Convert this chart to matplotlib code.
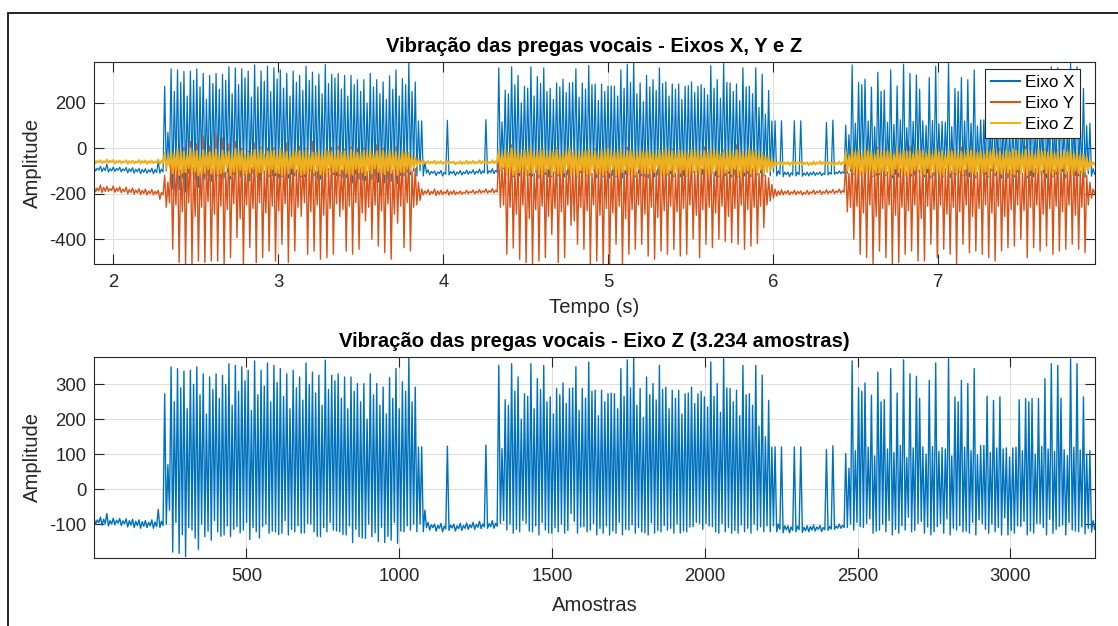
import numpy as np
import matplotlib
matplotlib.use("Agg")
import matplotlib.pyplot as plt
from matplotlib.patches import Rectangle

# sinal a ~540 Hz, guardado em blocos de 21 amostras:
# (maximo, minimo) de cada bloco e o segundo pico / segundo vale do mesmo bloco
fs = 540
t_inicio = 1.883
bloco = 21

eixo_x_max = [
    -82, -80, -70, -83, -84, -85, -86, -88, -90, -88, -58,
    273,
    350, 345, 338, 340, 350, 330, 321, 330, 326, 359, 354, 350, 340, 367, 340, 361, 354, 345, 330,
    340, 321, 361, 335, 326, 369, 326, 330, 321, 321, 302, 302, 330, 302, 292, 319, 345, 307, 378,
    292, 121,
    -95, -100, -98, 123, -100, -98, -97, -95, -92, 126, -90,
    354,
    256, 359, 321, 273, 359, 316, 354, 264, 288, 304, 288, 350, 288, 364, 283, 283, 273, 273, 345, 370,
    379, 288, 321, 302, 354, 292, 283, 283, 273, 292, 273, 264, 364, 302, 373, 288, 283, 354, 273, 354, 326,
    254, 121, 121,
    -105, 121, 121, -105, -103, -104, 113, 124, -100,
    102,
    367, 290, 304, 269, 335, 256, 345, 275, 370, 330, 323, 121, 311, 361, 119, 373, 264, 311, 302,
    345, 125, 266, 254, 264, 118, 118, 256, 259, 259, 259, 316, 359, 354, 113, 373, 359, 264,
    110,
]
eixo_x_min = [
    -100, -103, -105, -102, -104, -108, -110, -112, -110, -112, -110,
    -100,
    -180, -184, -193, -117, -172, -136, -146, -122, -131, -136, -107, -117, -144, -122, -107, -126, -122, -126, -131,
    -122, -126, -98, -122, -136, -122, -117, -122, -131, -153, -136, -141, -136, -150, -153, -146, -155, -122, -117,
    -122, -122,
    -117, -120, -122, -118, -120, -118, -115, -115, -113, -112, -112,
    -98,
    -117, -126, -122, -98, -122, -131, -117, -126, -122, -126, -70, -126, -107, -117, -131, -126, -131, -126, -131, -117,
    -126, -122, -131, -126, -122, -117, -126, -126, -122, -107, -98, -98, -107, -126, -122, -126, -126, -122, -126, -117, -122,
    -122, -122, -125,
    -125, -122, -124, -122, -120, -121, -118, -115, -112,
    -110,
    -117, -107, -98, -126, -117, -122, -131, -126, -117, -122, -98, -126, -131, -107, -126, -131, -117, -122, -126,
    -131, -98, -126, -122, -131, -131, -126, -107, -131, -126, -98, -131, -126, -107, -131, -117, -122, -128,
    -123,
]
eixo_x_max2 = [
    -88, -86, -90, -89, -91, -90, -92, -93, -95, -94, -92,
    70,
    250, 290, 230, 300, 270, 215, 285, 260, 300, 240, 280, 310, 225, 270, 295, 250, 305, 265, 230,
    290, 255, 300, 275, 240, 285, 310, 260, 230, 280, 250, 200, 270, 240, 215, 260, 230, 280, 250,
    120, -60,
    -102, -104, -106, -103, -105, -104, -102, -101, -100, -99, -98,
    116,
    240, 280, 200, 265, 230, 285, 250, 215, 270, 245, 290, 225, 260, 280, 210, 250, 275, 230, 265, 290,
    240, 205, 270, 255, 285, 230, 260, 215, 275, 245, 280, 235, 265, 220, 290, 250, 210, 270, 240, 180, 150,
    120, -100, -105,
    -108, -106, -109, -107, -108, -110, -107, -106, -104,
    60,
    110, 280, 120, 95, 250, 115, 105, 125, 90, 118, 260, 100, 122, 108, 115, 95, 250, 120, 110,
    98, 125, 105, 118, 115, 92, 120, 110, 250, 100, 122, 115, 108, 260, 96, 120, 112, 100,
    -90,
]
eixo_x_min2 = [
    -96, -98, -100, -97, -99, -103, -104, -106, -105, -107, -104,
    -60,
    -95, -130, -110, -140, -100, -120, -90, -135, -105, -115, -125, -95, -110, -140, -100, -120, -130, -90, -115,
    -105, -125, -100, -135, -110, -95, -120, -130, -105, -115, -140, -100, -125, -110, -135, -95, -120, -105, -100,
    -100, -110,
    -110, -112, -114, -111, -113, -112, -110, -109, -108, -107, -106,
    -90,
    -100, -115, -90, -120, -105, -95, -125, -110, -100, -118, -92, -108, -122, -98, -112, -105, -120, -95, -115, -102,
    -110, -125, -96, -118, -104, -112, -100, -120, -108, -95, -115, -105, -122, -98, -110, -118, -102, -112, -100, -108, -105,
    -105, -115, -116,
    -118, -116, -119, -117, -115, -116, -114, -112, -110,
    -100,
    -95, -110, -85, -120, -100, -90, -115, -105, -80, -118, -92, -108, -122, -98, -85, -112, -105, -120, -95,
    -88, -115, -100, -110, -82, -118, -105, -92, -120, -98, -110, -86, -115, -102, -95, -120, -108, -112,
    -115,
]

eixo_y_max = [
    -165, -162, -168, -166, -170, -172, -175, -178, -180, -182, -185,
    -120,
    -28, -20, 5, 30, 20, 53, 10, 60, 45, 20, 30, 0, -13, 23, 5, 0, 2, -28, 23,
    -10, 8, 0, 30, -13, -10, 5, 8, -5, 8, 0, 2, -13, 15, 0, -13, 8, -15, -20,
    -90, -180,
    -182, -180, -185, -183, -186, -188, -185, -184, -182, -180, -178,
    -20,
    -10, 15, -20, -25, 5, -30, -15, -20, 0, -25, -10, -20, -30, -15, -5, -20, 10, -25, -15, 5,
    -20, -30, -10, -20, -15, -25, -5, -20, -30, -10, -15, 5, -25, -20, -10, -30, 15, -15, -20, -25, -30,
    -130, -180, -183,
    -186, -185, -188, -186, -184, -185, -183, -182, -180,
    -60,
    -10, -25, 0, -20, 5, -15, -25, -5, -20, 8, -10, -25, -15, 0, -20, -28, -10, 5, -15,
    -20, -25, -5, -15, 0, -20, -10, -25, 8, -15, -20, -5, -25, -10, -15, -20, -28, -30,
    -150,
]
eixo_y_min = [
    -192, -195, -190, -194, -196, -200, -202, -204, -206, -205, -225,
    -260,
    -445, -504, -511, -511, -497, -504, -497, -497, -511, -482, -394, -511, -438, -504, -482, -453, -497, -423, -504,
    -453, -300, -467, -453, -489, -482, -467, -300, -453, -467, -445, -320, -401, -431, -460, -489, -330, -438, -453,
    -250, -205,
    -205, -208, -204, -206, -204, -202, -200, -200, -198, -198, -197,
    -260,
    -467, -440, -489, -504, -511, -497, -482, -380, -504, -482, -340, -423, -445, -511, -497, -511, -511, -423, -511, -467,
    -445, -423, -475, -489, -453, -467, -445, -475, -467, -400, -482, -423, -438, -401, -410, -416, -423, -445, -431, -420, -350,
    -233, -210, -205,
    -205, -204, -206, -203, -202, -203, -200, -200, -198,
    -280,
    -401, -467, -482, -511, -453, -482, -511, -504, -467, -453, -497, -497, -423, -482, -445, -467, -511, -423, -460,
    -453, -467, -482, -497, -453, -438, -431, -401, -482, -438, -453, -431, -467, -453, -445, -423, -445, -460,
    -220,
]
eixo_y_max2 = [
    -175, -172, -178, -176, -180, -182, -184, -186, -188, -190, -195,
    -150,
    -70, -95, -60, -85, -100, -75, -90, -65, -105, -80, -70, -95, -85, -60, -100, -75, -90, -80, -65,
    -95, -85, -70, -100, -60, -90, -75, -95, -80, -70, -85, -100, -65, -90, -75, -95, -85, -80, -100,
    -150, -188,
    -190, -188, -192, -190, -193, -194, -191, -190, -188, -187, -185,
    -80,
    -85, -100, -70, -95, -110, -80, -90, -105, -75, -100, -85, -95, -70, -110, -90, -80, -100, -75, -95, -85,
    -105, -70, -90, -100, -80, -95, -110, -75, -85, -100, -90, -70, -105, -80, -95, -85, -100, -75, -90, -110, -120,
    -160, -188, -190,
    -192, -190, -194, -192, -190, -191, -189, -188, -186,
    -110,
    -80, -100, -70, -95, -85, -105, -75, -90, -100, -80, -95, -70, -110, -85, -90, -100, -75, -95, -80,
    -105, -70, -90, -100, -85, -95, -75, -110, -80, -90, -100, -70, -95, -85, -105, -80, -100, -120,
    -180,
]
eixo_y_min2 = [
    -188, -190, -186, -189, -192, -195, -197, -199, -200, -201, -205,
    -240,
    -250, -280, -240, -300, -260, -235, -290, -255, -270, -245, -310, -250, -265, -240, -285, -255, -275, -245, -300,
    -260, -240, -280, -250, -295, -265, -245, -270, -255, -240, -285, -260, -250, -275, -245, -290, -255, -240, -260,
    -230, -200,
    -200, -203, -199, -201, -200, -198, -196, -196, -194, -194, -193,
    -250,
    -260, -290, -250, -310, -270, -255, -300, -265, -280, -250, -320, -260, -275, -250, -295, -265, -285, -255, -310, -270,
    -250, -290, -260, -305, -275, -255, -280, -265, -250, -295, -270, -260, -285, -255, -300, -265, -250, -270, -260, -255, -250,
    -220, -205, -200,
    -200, -199, -201, -198, -197, -198, -196, -195, -194,
    -260,
    -255, -285, -250, -300, -265, -250, -295, -260, -275, -250, -310, -255, -270, -250, -290, -260, -280, -250, -300,
    -265, -250, -285, -255, -300, -270, -250, -275, -260, -250, -290, -265, -255, -280, -250, -295, -260, -250,
    -200,
]

eixo_z_max = [
    -52, -53, -50, -52, -54, -53, -55, -52, -54, -53, -50,
    -20,
    -10, -5, -15, 0, -12, -8, -18, -5, -10, -15, -3, -12, -20, -8, -5, -14, -10, -2, -16,
    -8, -12, -6, -18, -10, -4, -15, -9, -12, -7, -20, -10, -5, -14, -11, -8, -16, -12, -20,
    -40, -55,
    -56, -55, -57, -56, -58, -57, -55, -56, -54, -55, -53,
    -10,
    -5, 0, -12, -8, 5, -15, -3, -10, -6, -18, 2, -9, -12, -4, -14, -7, 0, -16, -5, -10,
    -13, -2, -8, -15, -6, 3, -11, -9, -14, -4, -7, -12, 0, -10, -16, -5, -8, -13, -3, -11, -20,
    -35, -58, -60,
    -60, -58, -59, -61, -58, -57, -59, -60, -58,
    -15,
    -2, -10, 0, -14, -6, -8, -12, 3, -9, -15, -4, -11, -7, 0, -13, -5, -10, -16, -3,
    -8, -12, -6, 2, -14, -9, -5, -11, -7, -13, -2, -10, -6, -15, -8, -12, -20, -25,
    -55,
]
eixo_z_min = [
    -65, -66, -64, -67, -66, -68, -66, -67, -69, -66, -68,
    -90,
    -110, -118, -105, -115, -120, -108, -112, -116, -104, -119, -110, -113, -107, -121, -109, -114, -106, -117, -111,
    -103, -118, -112, -108, -115, -120, -105, -113, -110, -116, -107, -119, -111, -104, -114, -109, -117, -106, -100,
    -80, -68,
    -68, -69, -70, -68, -71, -70, -69, -68, -67, -68, -66,
    -95,
    -112, -118, -106, -121, -109, -115, -103, -119, -111, -108, -116, -122, -105, -113, -110, -118, -107, -120, -104, -114,
    -117, -109, -112, -106, -119, -111, -115, -108, -121, -103, -113, -116, -110, -118, -107, -114, -120, -105, -112, -109, -115,
    -100, -72, -73,
    -74, -72, -73, -75, -72, -71, -73, -74, -72,
    -100,
    -110, -117, -104, -120, -108, -113, -116, -106, -119, -111, -105, -114, -118, -109, -121, -107, -112, -115, -103,
    -117, -110, -120, -106, -113, -108, -116, -111, -119, -104, -114, -109, -118, -107, -112, -115, -110, -105,
    -75,
]
eixo_z_max2 = [
    -56, -57, -55, -56, -58, -57, -58, -56, -57, -58, -55,
    -40,
    -25, -18, -30, -12, -28, -22, -15, -32, -20, -26, -14, -30, -24, -18, -28, -12, -26, -20, -32,
    -16, -24, -30, -18, -26, -14, -28, -22, -30, -16, -24, -20, -28, -12, -26, -22, -30, -18, -35,
    -50, -58,
    -60, -59, -61, -60, -62, -61, -59, -60, -58, -59, -57,
    -30,
    -20, -12, -28, -16, -24, -10, -30, -18, -26, -14, -22, -28, -12, -20, -30, -16, -24, -18, -26, -10,
    -28, -20, -14, -30, -22, -16, -26, -12, -24, -18, -30, -20, -14, -26, -22, -28, -16, -24, -12, -30, -35,
    -50, -62, -63,
    -63, -62, -63, -64, -62, -61, -63, -64, -62,
    -35,
    -18, -26, -12, -28, -20, -14, -30, -22, -16, -26, -10, -24, -28, -18, -30, -14, -22, -26, -12,
    -20, -28, -16, -24, -30, -18, -12, -26, -22, -28, -14, -20, -24, -30, -16, -26, -32, -40,
    -62,
]
eixo_z_min2 = [
    -62, -63, -61, -63, -62, -64, -63, -64, -65, -63, -64,
    -80,
    -95, -108, -88, -102, -112, -92, -100, -110, -86, -104, -96, -114, -90, -106, -100, -92, -110, -98, -88,
    -104, -112, -94, -100, -108, -90, -102, -96, -114, -92, -106, -98, -88, -110, -100, -94, -104, -90, -85,
    -70, -66,
    -65, -66, -67, -65, -68, -67, -66, -65, -64, -65, -63,
    -85,
    -100, -112, -90, -106, -96, -114, -92, -104, -110, -88, -102, -98, -116, -94, -108, -100, -90, -112, -96, -106,
    -92, -110, -100, -88, -114, -98, -104, -94, -108, -102, -90, -112, -96, -106, -100, -92, -110, -98, -104, -94, -100,
    -85, -69, -70,
    -70, -69, -70, -72, -69, -68, -70, -71, -69,
    -90,
    -98, -110, -92, -106, -100, -114, -90, -104, -112, -96, -108, -88, -102, -110, -94, -106, -100, -92, -112,
    -98, -104, -90, -108, -100, -114, -94, -102, -96, -110, -92, -106, -100, -88, -104, -98, -108, -95,
    -72,
]

legendas = ['Eixo X', 'Eixo Y', 'Eixo Z']
cores = ['#0072BD', '#D95319', '#EDB120']


def intercala(*colunas):
    # valores de cada bloco, um a seguir ao outro
    return np.column_stack(colunas).ravel().astype(float)


n_blocos = len(eixo_x_max)
n_amostras = n_blocos * bloco

sinal_x = intercala(eixo_x_max, eixo_x_min, eixo_x_max2, eixo_x_min2)
sinal_y = intercala(eixo_y_max, eixo_y_min, eixo_y_max2, eixo_y_min2)
sinal_z = intercala(eixo_z_max, eixo_z_min, eixo_z_max2, eixo_z_min2)

amostras = np.linspace(1, n_amostras, len(sinal_x))
tempo = t_inicio + (amostras - 1) / fs

plt.rcParams['font.family'] = ['Liberation Sans', 'DejaVu Sans']
plt.rcParams['axes.unicode_minus'] = False
escuro = '#262626'

fig = plt.figure(figsize=(11.18, 6.26), dpi=100)
fig.patches.append(Rectangle((8 / 1118, -0.1), 1.2, 1.1 - 13 / 626, transform=fig.transFigure,
                             fill=False, ec='black', lw=1.2))

ax1 = fig.add_axes([94 / 1118, 1 - 264 / 626, 1000.7 / 1118, 202 / 626])
ax2 = fig.add_axes([94 / 1118, 1 - 558 / 626, 1000.7 / 1118, 201.3 / 626])

ax1.plot(tempo, sinal_x, color=cores[0], lw=0.9, label=legendas[0])
ax1.plot(tempo, sinal_y, color=cores[1], lw=1.0, label=legendas[1])
ax1.plot(tempo, sinal_z, color=cores[2], lw=1.4, label=legendas[2])
ax1.set_xlim(t_inicio, tempo[-1])
ax1.set_ylim(-510, 380)
ax1.set_xticks([2, 3, 4, 5, 6, 7])
ax1.set_yticks([-400, -200, 0, 200])
ax1.set_title('Vibração das pregas vocais - Eixos X, Y e Z', fontsize=14.6, fontweight='bold', pad=7)
ax1.set_xlabel('Tempo (s)', fontsize=14.6, color=escuro)
ax1.xaxis.set_label_coords(0.5, -0.168)

leg = ax1.legend(loc='upper right', bbox_to_anchor=(0.9856, 0.9653), borderaxespad=0,
                 fontsize=12.3, fancybox=False, framealpha=1, edgecolor=escuro,
                 handlelength=1.7, handletextpad=0.3, labelspacing=0.35, borderpad=0.35)
leg.get_frame().set_linewidth(0.8)
for linha in leg.get_lines():
    linha.set_linewidth(1.5)

ax2.plot(amostras, sinal_x, color=cores[0], lw=1.0)
ax2.set_xlim(1, n_amostras)
ax2.set_ylim(-197, 379)
ax2.set_xticks([500, 1000, 1500, 2000, 2500, 3000])
ax2.set_yticks([-100, 0, 100, 200, 300])
ax2.set_title('Vibração das pregas vocais - Eixo Z (3.234 amostras)', fontsize=14.6, fontweight='bold', pad=7)
ax2.set_xlabel('Amostras', fontsize=14.6, color=escuro)
ax2.xaxis.set_label_coords(0.5, -0.189)

for ax in (ax1, ax2):
    ax.set_ylabel('Amplitude', fontsize=14.6, color=escuro)
    ax.yaxis.set_label_coords(-0.052, 0.5)
    ax.grid(True, color='#dfdfdf', lw=0.8)
    ax.set_axisbelow(True)
    ax.tick_params(direction='in', length=7.2, width=0.8, colors=escuro, labelsize=13.3,
                   top=True, right=True)
    ax.tick_params(axis='x', pad=7)
    ax.tick_params(axis='y', pad=5.5)
    for s in ax.spines.values():
        s.set_color(escuro)
        s.set_linewidth(0.8)

fig.savefig('out.png', dpi=100)
